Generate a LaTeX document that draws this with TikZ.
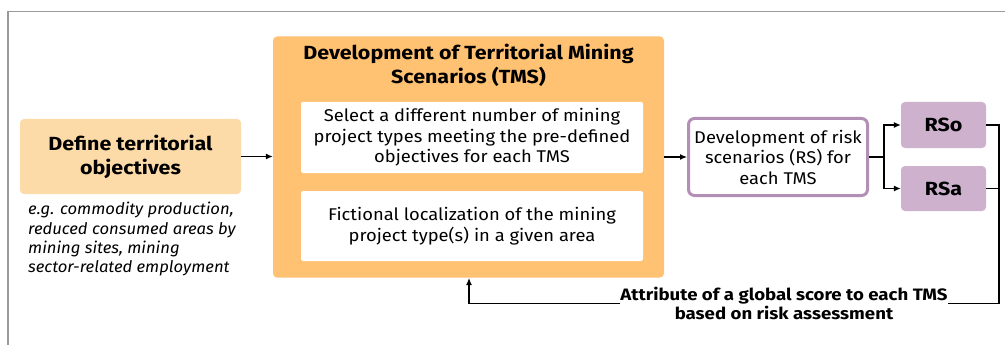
\documentclass[tikz,border=0pt]{standalone}
\usepackage{fontspec}
\setmainfont{Fira Sans}
\newfontfamily\fbold{Fira Sans}[FakeStretch=1.13]
\newfontfamily\freg{Fira Sans}[FakeStretch=1.08]
\newfontfamily\fital{Fira Sans}[FakeStretch=1.04]
\usetikzlibrary{arrows.meta}
\definecolor{lightor}{HTML}{FDDBA8}
\definecolor{bigor}{HTML}{FFC172}
\definecolor{purpb}{HTML}{B38FB5}
\definecolor{purpf}{HTML}{CDB1CD}
\definecolor{framegray}{HTML}{9A9A9A}
\tikzset{
  box/.style={draw=none, rounded corners=4pt, inner sep=0pt, align=center},
  conn/.style={line width=1.2pt, -{Latex[length=7pt,width=6pt]}},
  plain/.style={line width=1.2pt},
  bigbold/.style={font=\fontsize{19}{24}\selectfont\fbold\bfseries},
  regtext/.style={font=\fontsize{17}{20.5}\selectfont\freg},
}
\begin{document}
\begin{tikzpicture}[x=1pt,y=-1pt]
\useasboundingbox (0,0) rectangle (1005,345);
\fill[white] (0,0) rectangle (1005,345);
\draw[framegray, line width=1.5pt] (1006,11.5) -- (8,11.5) -- (8,346);

% left box
\node[box, fill=lightor, minimum width=221pt, minimum height=75pt, bigbold] (obj) at (130.5,156.5)
      {Define territorial\\objectives};
\node[anchor=north west, inner sep=0pt, align=left,
      font=\fontsize{16}{19.4}\selectfont\fital\itshape] (eg) at (28,202)
      {e.g. commodity production,\\reduced consumed areas by\\mining sites, mining\\sector-related employment};

% big box
\node[box, fill=bigor, minimum width=391pt, minimum height=241pt] (tms) at (468.5,157) {};
\node[inner sep=0pt, align=center, bigbold] (tmst) at (468.5,65)
      {Development of Territorial Mining\\Scenarios (TMS)};
\node[box, fill=white, rounded corners=2pt, minimum width=342pt, minimum height=71pt, regtext] (sel) at (472,137.5)
      {Select a different number of mining\\project types meeting the pre-defined\\objectives for each TMS};
\node[box, fill=white, rounded corners=2pt, minimum width=342pt, minimum height=70pt, regtext] (loc) at (472,226)
      {Fictional localization of the mining\\project type(s) in a given area};

% risk scenarios
\node[box, draw=purpb, line width=3pt, fill=white, rounded corners=6pt,
      minimum width=179pt, minimum height=77pt, regtext] (rs) at (778,157)
      {Development of risk\\scenarios (RS) for\\each TMS};
\node[box, fill=purpf, minimum width=85pt, minimum height=46pt, bigbold] (rso) at (943.5,125) {RSo};
\node[box, fill=purpf, minimum width=85pt, minimum height=45pt, bigbold] (rsa) at (943.5,188.5) {RSa};

\node[inner sep=0pt, align=center, font=\fontsize{16.5}{19.5}\selectfont\fbold\bfseries] (att) at (784,303.5)
      {Attribute of a global score to each TMS\\based on risk assessment};

% connectors
\coordinate (split) at (884,157);
\coordinate (back) at (999,303.5);
\draw[conn] (obj.east) -- (tms.west |- obj.east);
\draw[conn] (tms.east |- rs.west) -- (rs.west);
\draw[plain] (rs.east) -- (split);
\draw[conn] (split) |- (rso.west);
\draw[conn] (split) |- (rsa.west);
\draw[plain] (rso.east) -- (rso.east -| back) -- (back) -- (att.east);
\draw[plain] (rsa.east) -- (rsa.east -| back);
\draw[conn] (att.west) -| (469,278);
\end{tikzpicture}
\end{document}
